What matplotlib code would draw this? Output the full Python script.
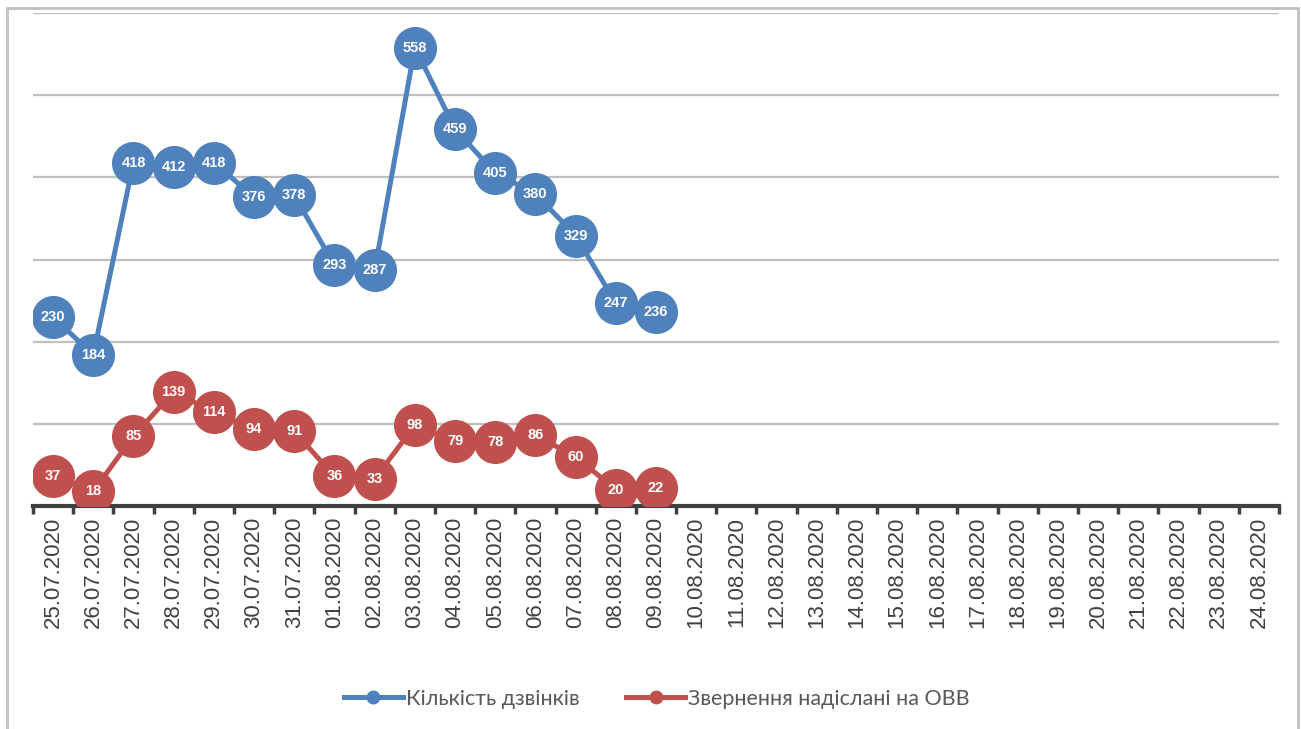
import matplotlib.pyplot as plt
from matplotlib.patches import Rectangle

dates = ['25.07.2020', '26.07.2020', '27.07.2020', '28.07.2020', '29.07.2020',
         '30.07.2020', '31.07.2020'] + ['%02d.08.2020' % d for d in range(1, 25)]
calls = [230, 184, 418, 412, 418, 376, 378, 293, 287, 558, 459, 405, 380, 329, 247, 236]
sent = [37, 18, 85, 139, 114, 94, 91, 36, 33, 98, 79, 78, 86, 60, 20, 22]

blue = '#4f81bd'
red = '#c0504d'

fig = plt.figure(figsize=(13.01, 7.29), dpi=100)
ax = fig.add_axes([33 / 1301, 1 - 506 / 729, 1246 / 1301, 493 / 729])

# рамка діаграми
fig.patches.append(Rectangle((7 / 1301, -0.05), 1291 / 1301, 1.05 - 8 / 729,
                             transform=fig.transFigure, fill=False,
                             edgecolor='#bfbfbf', linewidth=2))

x = list(range(len(dates)))
ax.plot(x[:len(calls)], calls, color=blue, lw=3.6, marker='o', ms=30,
        mec=blue, mfc=blue, label='Кількість дзвінків', zorder=3)
ax.plot(x[:len(sent)], sent, color=red, lw=3.6, marker='o', ms=30,
        mec=red, mfc=red, label='Звернення надіслані на ОВВ', zorder=3)

for i, v in enumerate(calls):
    ax.text(i, v, str(v), color='white', fontsize=10.5, fontweight='bold',
            ha='center', va='center', zorder=4, family='Liberation Sans')
for i, v in enumerate(sent):
    ax.text(i, v, str(v), color='white', fontsize=10.5, fontweight='bold',
            ha='center', va='center', zorder=4, family='Liberation Sans')

ax.set_xlim(-0.5, len(dates) - 0.5)
ax.set_ylim(0, 600)
ax.set_yticks([100, 200, 300, 400, 500, 600])
ax.yaxis.grid(True, color='#bfbfbf', lw=1.6)
ax.set_axisbelow(True)
ax.tick_params(axis='y', left=False, labelleft=False)

ax.set_xticks(x)
ax.set_xticklabels(dates, rotation=90, fontsize=16, color='#404040',
                   family='Liberation Sans')
ax.tick_params(axis='x', which='major', length=0, pad=8)
ax.set_xticks([i - 0.5 for i in range(len(dates) + 1)], minor=True)
ax.tick_params(axis='x', which='minor', length=6, width=2.5, color='#404040')

for s in ['top', 'right', 'left']:
    ax.spines[s].set_visible(False)
ax.spines['bottom'].set_color('#404040')
ax.spines['bottom'].set_linewidth(3)

leg = fig.legend(loc='center', bbox_to_anchor=(657 / 1301, 1 - 699 / 729),
                 ncol=2, frameon=False, markerscale=0.3,
                 handlelength=2.74, columnspacing=2.16, handletextpad=0.15,
                 prop={'family': 'Lato', 'size': 15.5})
for t in leg.get_texts():
    t.set_color('#595959')

plt.savefig('out.png', dpi=100)
